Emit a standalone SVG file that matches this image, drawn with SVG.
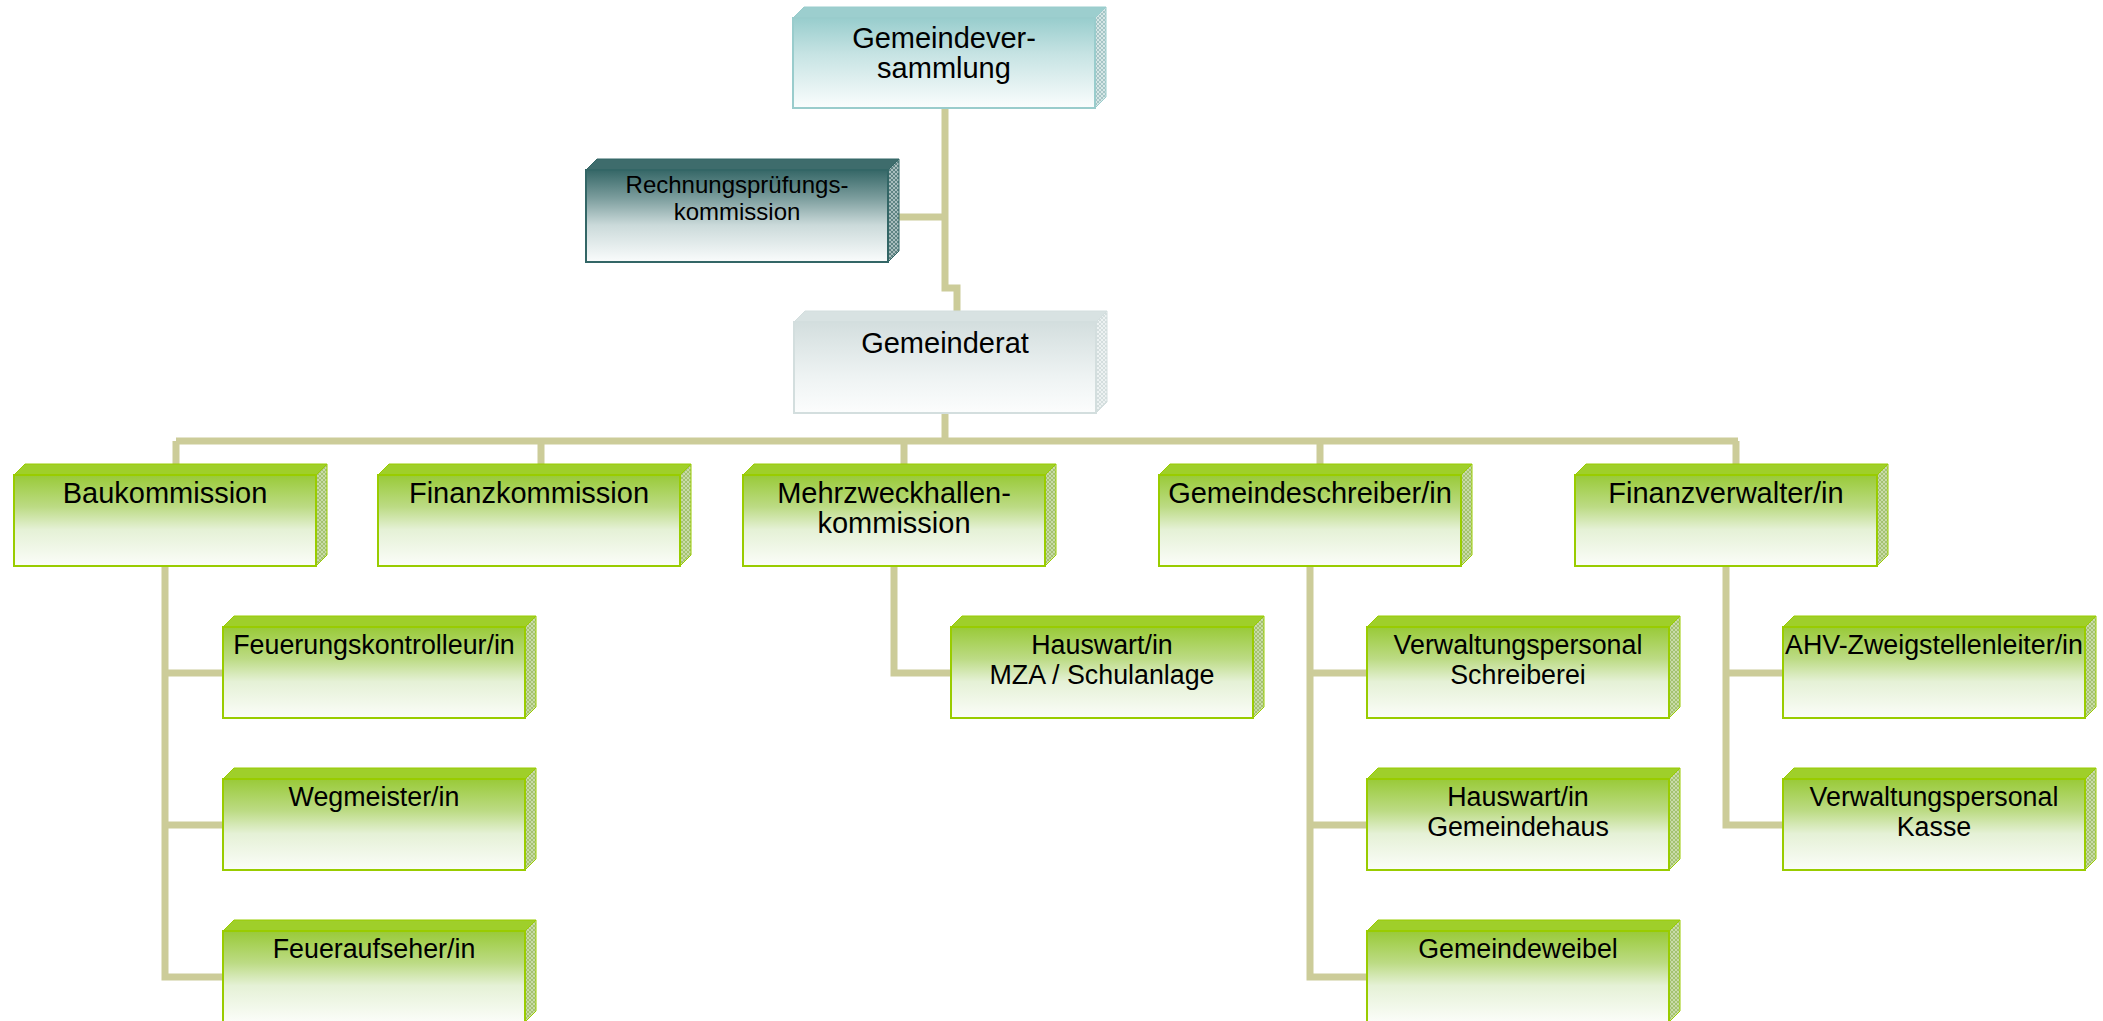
<svg xmlns="http://www.w3.org/2000/svg" width="2103" height="1021" viewBox="0 0 2103 1021">
<style>
text{font-family:"Liberation Sans",Arial,sans-serif;fill:#000;text-anchor:middle}
.t29{font-size:29px}
.t26{font-size:26.8px}
.t24{font-size:24px}
.conn{fill:none;stroke:#CCCC99;stroke-width:7;stroke-linejoin:miter;stroke-linecap:butt}
.g .front{fill:url(#gG);stroke:#99CC00;stroke-width:2}
.g .top{fill:#9FCF2A;stroke:#99CC00;stroke-width:1}
.g .side{fill:url(#hG);stroke:#99CC00;stroke-width:1}
.tl .front{fill:url(#gT);stroke:#99CCCC;stroke-width:2}
.tl .top{fill:#9CCECE;stroke:#99CCCC;stroke-width:1}
.tl .side{fill:url(#hT);stroke:#99CCCC;stroke-width:1}
.dk .front{fill:url(#gD);stroke:#336666;stroke-width:2}
.dk .top{fill:#3E6C6C;stroke:#336666;stroke-width:1}
.dk .side{fill:url(#hD);stroke:#336666;stroke-width:1}
.lt .front{fill:url(#gL);stroke:#D3DEDE;stroke-width:2}
.lt .top{fill:#D8E2E2;stroke:#D3DEDE;stroke-width:1}
.lt .side{fill:url(#hL);stroke:#D3DEDE;stroke-width:1}
</style>
<defs>
<linearGradient id="gG" x1="0" y1="0" x2="0" y2="1">
<stop offset="0" stop-color="#99CA38"/><stop offset="0.35" stop-color="#BCDB84"/><stop offset="0.6" stop-color="#E5F1D6"/><stop offset="1" stop-color="#FBFDF9"/>
</linearGradient>
<linearGradient id="gT" x1="0" y1="0" x2="0" y2="1">
<stop offset="0" stop-color="#98CDCD"/><stop offset="0.4" stop-color="#C6E3E3"/><stop offset="1" stop-color="#FAFDFD"/>
</linearGradient>
<linearGradient id="gD" x1="0" y1="0" x2="0" y2="1">
<stop offset="0" stop-color="#356767"/><stop offset="0.3" stop-color="#7A9C9C"/><stop offset="0.6" stop-color="#CBDADA"/><stop offset="1" stop-color="#FAFCFC"/>
</linearGradient>
<linearGradient id="gL" x1="0" y1="0" x2="0" y2="1">
<stop offset="0" stop-color="#D3DEDE"/><stop offset="0.6" stop-color="#EEF3F3"/><stop offset="1" stop-color="#FCFDFD"/>
</linearGradient>
<pattern id="hG" width="4" height="4" patternUnits="userSpaceOnUse"><rect width="4" height="4" fill="#C9DBA8"/><path d="M0,0L4,4M4,0L0,4" stroke="#94B85A" stroke-width="0.7"/></pattern>
<pattern id="hT" width="4" height="4" patternUnits="userSpaceOnUse"><rect width="4" height="4" fill="#D6E6E6"/><path d="M0,0L4,4M4,0L0,4" stroke="#8FB8B8" stroke-width="0.7"/></pattern>
<pattern id="hD" width="4" height="4" patternUnits="userSpaceOnUse"><rect width="4" height="4" fill="#A9BDBD"/><path d="M0,0L4,4M4,0L0,4" stroke="#3E6A6A" stroke-width="0.7"/></pattern>
<pattern id="hL" width="4" height="4" patternUnits="userSpaceOnUse"><rect width="4" height="4" fill="#EDF2F2"/><path d="M0,0L4,4M4,0L0,4" stroke="#C8D6D6" stroke-width="0.7"/></pattern>
</defs>

<g id="connectors">
<path class="conn" d="M945,108V288H957V313"/>
<path class="conn" d="M899,217H945"/>
<path class="conn" d="M945,413V441"/>
<path class="conn" d="M176,441H1738"/>
<path class="conn" d="M176,441V464M541,441V464M904,441V464M1320,441V464M1736,441V464"/>
<path class="conn" d="M165,566V977H223M165,673H223M165,825H223"/>
<path class="conn" d="M894,566V673H951"/>
<path class="conn" d="M1310,566V977H1367M1310,673H1367M1310,825H1367"/>
<path class="conn" d="M1726,566V825H1783M1726,673H1783"/>
</g>

<g id="n-gemeindeversammlung" class="tl">
<polygon class="top" points="793,18 1095,18 1106,7 804,7"/>
<polygon class="side" points="1095,18 1106,7 1106,97 1095,108"/>
<rect class="front" x="793" y="18" width="302" height="90"/>
<text class="t29" x="944" y="48">Gemeindever-</text>
<text class="t29" x="944" y="78">sammlung</text>
</g>

<g id="n-rechnungspruefung" class="dk">
<polygon class="top" points="586,170 888,170 899,159 597,159"/>
<polygon class="side" points="888,170 899,159 899,251 888,262"/>
<rect class="front" x="586" y="170" width="302" height="92"/>
<text class="t24" x="737" y="193">Rechnungsprüfungs-</text>
<text class="t24" x="737" y="220">kommission</text>
</g>

<g id="n-gemeinderat" class="lt">
<polygon class="top" points="794,322 1096,322 1107,311 805,311"/>
<polygon class="side" points="1096,322 1107,311 1107,402 1096,413"/>
<rect class="front" x="794" y="322" width="302" height="91"/>
<text class="t29" x="945" y="353">Gemeinderat</text>
</g>

<g id="n-baukommission" class="g">
<polygon class="top" points="14,475 316,475 327,464 25,464"/>
<polygon class="side" points="316,475 327,464 327,555 316,566"/>
<rect class="front" x="14" y="475" width="302" height="91"/>
<text class="t29" x="165" y="503">Baukommission</text>
</g>

<g id="n-finanzkommission" class="g">
<polygon class="top" points="378,475 680,475 691,464 389,464"/>
<polygon class="side" points="680,475 691,464 691,555 680,566"/>
<rect class="front" x="378" y="475" width="302" height="91"/>
<text class="t29" x="529" y="503">Finanzkommission</text>
</g>

<g id="n-mehrzweckhallen" class="g">
<polygon class="top" points="743,475 1045,475 1056,464 754,464"/>
<polygon class="side" points="1045,475 1056,464 1056,555 1045,566"/>
<rect class="front" x="743" y="475" width="302" height="91"/>
<text class="t29" x="894" y="503">Mehrzweckhallen-</text>
<text class="t29" x="894" y="533">kommission</text>
</g>

<g id="n-gemeindeschreiber" class="g">
<polygon class="top" points="1159,475 1461,475 1472,464 1170,464"/>
<polygon class="side" points="1461,475 1472,464 1472,555 1461,566"/>
<rect class="front" x="1159" y="475" width="302" height="91"/>
<text class="t29" x="1310" y="503">Gemeindeschreiber/in</text>
</g>

<g id="n-finanzverwalter" class="g">
<polygon class="top" points="1575,475 1877,475 1888,464 1586,464"/>
<polygon class="side" points="1877,475 1888,464 1888,555 1877,566"/>
<rect class="front" x="1575" y="475" width="302" height="91"/>
<text class="t29" x="1726" y="503">Finanzverwalter/in</text>
</g>

<g id="n-feuerungskontrolleur" class="g">
<polygon class="top" points="223,627 525,627 536,616 234,616"/>
<polygon class="side" points="525,627 536,616 536,707 525,718"/>
<rect class="front" x="223" y="627" width="302" height="91"/>
<text class="t26" x="374" y="654">Feuerungskontrolleur/in</text>
</g>

<g id="n-wegmeister" class="g">
<polygon class="top" points="223,779 525,779 536,768 234,768"/>
<polygon class="side" points="525,779 536,768 536,859 525,870"/>
<rect class="front" x="223" y="779" width="302" height="91"/>
<text class="t26" x="374" y="806">Wegmeister/in</text>
</g>

<g id="n-feueraufseher" class="g">
<polygon class="top" points="223,931 525,931 536,920 234,920"/>
<polygon class="side" points="525,931 536,920 536,1011 525,1022"/>
<rect class="front" x="223" y="931" width="302" height="91"/>
<text class="t26" x="374" y="958">Feueraufseher/in</text>
</g>

<g id="n-hauswart-mza" class="g">
<polygon class="top" points="951,627 1253,627 1264,616 962,616"/>
<polygon class="side" points="1253,627 1264,616 1264,707 1253,718"/>
<rect class="front" x="951" y="627" width="302" height="91"/>
<text class="t26" x="1102" y="654">Hauswart/in</text>
<text class="t26" x="1102" y="684">MZA / Schulanlage</text>
</g>

<g id="n-verwaltung-schreiberei" class="g">
<polygon class="top" points="1367,627 1669,627 1680,616 1378,616"/>
<polygon class="side" points="1669,627 1680,616 1680,707 1669,718"/>
<rect class="front" x="1367" y="627" width="302" height="91"/>
<text class="t26" x="1518" y="654">Verwaltungspersonal</text>
<text class="t26" x="1518" y="684">Schreiberei</text>
</g>

<g id="n-hauswart-gemeindehaus" class="g">
<polygon class="top" points="1367,779 1669,779 1680,768 1378,768"/>
<polygon class="side" points="1669,779 1680,768 1680,859 1669,870"/>
<rect class="front" x="1367" y="779" width="302" height="91"/>
<text class="t26" x="1518" y="806">Hauswart/in</text>
<text class="t26" x="1518" y="836">Gemeindehaus</text>
</g>

<g id="n-gemeindeweibel" class="g">
<polygon class="top" points="1367,931 1669,931 1680,920 1378,920"/>
<polygon class="side" points="1669,931 1680,920 1680,1011 1669,1022"/>
<rect class="front" x="1367" y="931" width="302" height="91"/>
<text class="t26" x="1518" y="958">Gemeindeweibel</text>
</g>

<g id="n-ahv" class="g">
<polygon class="top" points="1783,627 2085,627 2096,616 1794,616"/>
<polygon class="side" points="2085,627 2096,616 2096,707 2085,718"/>
<rect class="front" x="1783" y="627" width="302" height="91"/>
<text class="t26" x="1934" y="654">AHV-Zweigstellenleiter/in</text>
</g>

<g id="n-verwaltung-kasse" class="g">
<polygon class="top" points="1783,779 2085,779 2096,768 1794,768"/>
<polygon class="side" points="2085,779 2096,768 2096,859 2085,870"/>
<rect class="front" x="1783" y="779" width="302" height="91"/>
<text class="t26" x="1934" y="806">Verwaltungspersonal</text>
<text class="t26" x="1934" y="836">Kasse</text>
</g>
</svg>
